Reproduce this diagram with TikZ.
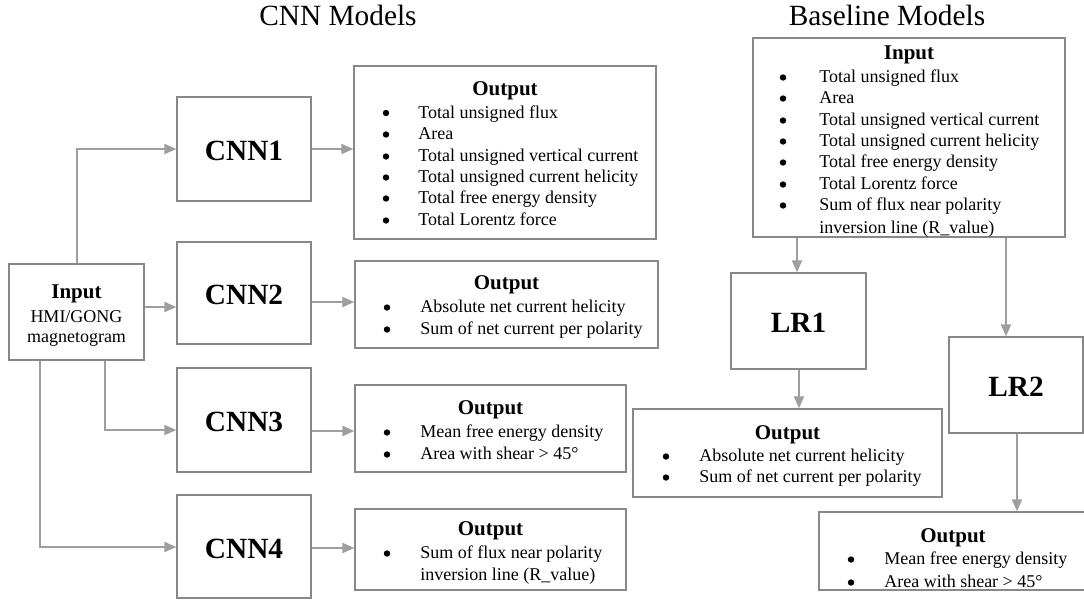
\documentclass[tikz,border=0pt]{standalone}
\usepackage{fontspec}
\setmainfont{Liberation Serif}
\usetikzlibrary{arrows.meta,fit}
\definecolor{boxgray}{HTML}{888888}
\definecolor{arrgray}{HTML}{9E9E9E}
\tikzset{
  box/.style={draw=boxgray, line width=1pt, inner sep=0pt, fit={#1}},
  big/.style={inner sep=0pt, font=\fontsize{22}{26}\selectfont\bfseries},
  head/.style={anchor=base, inner sep=0pt, font=\fontsize{15.75}{18}\selectfont\bfseries},
  item/.style={anchor=base west, inner sep=0pt, font=\fontsize{13.5}{16}\selectfont},
  bul/.style={anchor=base, inner sep=0pt, font=\fontsize{13.5}{16}\selectfont},
  dot/.style={circle, fill=black, draw=none, inner sep=0pt, minimum size=4.8pt},
  title/.style={anchor=base, inner sep=0pt, font=\fontsize{22}{26}\selectfont},
  arr/.style={draw=arrgray, line width=1.5pt, -{Triangle[length=9pt,width=7.5pt]}},
}
\begin{document}
\begin{tikzpicture}[x=0.75pt,y=-0.75pt]
\useasboundingbox (0,0) rectangle (1084,601);
\fill[white] (0,0) rectangle (1084,601);

% titles
\node[title] (t1) at (338,25) {CNN Models};
\node[title] (t2) at (887,25) {Baseline Models};

% input box
\node[box={(9,264)(144,360)}] (in) {};
\node[head] (inh) at (76.5,298) {Input};
\node[bul] (in1) at (76.5,322) {HMI/GONG};
\node[bul] (in2) at (76.5,342) {magnetogram};

% CNN boxes
\node[box={(177,97)(311,201)}] (cnn1) {};
\node[box={(177,242)(311,344)}] (cnn2) {};
\node[box={(177,368)(311,472)}] (cnn3) {};
\node[box={(177,495)(311,598)}] (cnn4) {};
\node[big] (cnn1l) at ([yshift=-1.5pt]cnn1.center) {CNN1};
\node[big] (cnn2l) at ([yshift=-1.5pt]cnn2.center) {CNN2};
\node[big] (cnn3l) at ([yshift=-1.5pt]cnn3.center) {CNN3};
\node[big] (cnn4l) at ([yshift=-1.5pt]cnn4.center) {CNN4};

% output 1
\node[box={(354,66)(656,239)}] (o1) {};
\node[head] (o1h) at (505,95.5) {Output};
\node[dot] (o1b1) at (386,113) {}; \node[item] (o1t1) at (418,118) {Total unsigned flux};
\node[dot] (o1b2) at (386,134.5) {}; \node[item] (o1t2) at (418,139.5) {Area};
\node[dot] (o1b3) at (386,156.5) {}; \node[item] (o1t3) at (418,161.5) {Total unsigned vertical current};
\node[dot] (o1b4) at (386,177.5) {}; \node[item] (o1t4) at (418,182.5) {Total unsigned current helicity};
\node[dot] (o1b5) at (386,198.5) {}; \node[item] (o1t5) at (418,203.5) {Total free energy density};
\node[dot] (o1b6) at (386,220.5) {}; \node[item] (o1t6) at (418,225.5) {Total Lorentz force};

% output 2
\node[box={(355,261)(658,348)}] (o2) {};
\node[head] (o2h) at (506.5,289.5) {Output};
\node[dot] (o2b1) at (387,307.5) {}; \node[item] (o2t1) at (420,312.5) {Absolute net current helicity};
\node[dot] (o2b2) at (387,329.5) {}; \node[item] (o2t2) at (420,334.5) {Sum of net current per polarity};

% output 3
\node[box={(355,385)(626,472)}] (o3) {};
\node[head] (o3h) at (490.5,414.5) {Output};
\node[dot] (o3b1) at (387,432.5) {}; \node[item] (o3t1) at (420,437.5) {Mean free energy density};
\node[dot] (o3b2) at (387,454.5) {}; \node[item] (o3t2) at (420,459.5) {Area with shear > 45°};

% output 4
\node[box={(355,509)(626,590)}] (o4) {};
\node[head] (o4h) at (490.5,535.5) {Output};
\node[dot] (o4b1) at (387,553.5) {}; \node[item] (o4t1) at (420,558.5) {Sum of flux near polarity};
\node[item] (o4t2) at (420,580.5) {inversion line (R\_value)};

% baseline input
\node[box={(753,38)(1065,237)}] (bin) {};
\node[head] (binh) at (909,59.5) {Input};
\node[dot] (bb1) at (783,77.5) {}; \node[item] (bt1) at (819,82.5) {Total unsigned flux};
\node[dot] (bb2) at (783,98.5) {}; \node[item] (bt2) at (819,103.5) {Area};
\node[dot] (bb3) at (783,120.5) {}; \node[item] (bt3) at (819,125.5) {Total unsigned vertical current};
\node[dot] (bb4) at (783,141.5) {}; \node[item] (bt4) at (819,146.5) {Total unsigned current helicity};
\node[dot] (bb5) at (783,162.5) {}; \node[item] (bt5) at (819,167.5) {Total free energy density};
\node[dot] (bb6) at (783,184.5) {}; \node[item] (bt6) at (819,189.5) {Total Lorentz force};
\node[dot] (bb7) at (783,205.5) {}; \node[item] (bt7) at (819,210.5) {Sum of flux near polarity};
\node[item] (bt8) at (819,233) {inversion line (R\_value)};

% LR boxes
\node[box={(731,273)(866,369)}] (lr1) {};
\node[box={(949,337)(1083,433)}] (lr2) {};
\node[big] (lr1l) at ([yshift=-1.5pt]lr1.center) {LR1};
\node[big] (lr2l) at ([yshift=-1.5pt]lr2.center) {LR2};

% LR1 output
\node[box={(633,409)(942,497)}] (lo1) {};
\node[head] (lo1h) at (787.5,439.5) {Output};
\node[dot] (lo1b1) at (666,456.5) {}; \node[item] (lo1t1) at (699,461.5) {Absolute net current helicity};
\node[dot] (lo1b2) at (666,477.5) {}; \node[item] (lo1t2) at (699,482.5) {Sum of net current per polarity};

% LR2 output
\node[box={(819,512)(1087,590)}] (lo2) {};
\node[head] (lo2h) at (953,542.5) {Output};
\node[dot] (lo2b1) at (851,559.5) {}; \node[item] (lo2t1) at (884,564.5) {Mean free energy density};
\node[dot] (lo2b2) at (851,582.5) {}; \node[item] (lo2t2) at (884,587.5) {Area with shear > 45°};

% connectors: input -> CNNs
\draw[arr] (in.north -| 77,0) |- (cnn1.west);
\draw[arr] (in.east |- 0,307) -- (cnn2.west |- 0,307);
\draw[arr] (in.south -| 105,0) |- (cnn3.west |- 0,430);
\draw[arr] (in.south -| 40,0) |- (cnn4.west |- 0,547);

% CNNs -> outputs
\draw[arr] (cnn1.east |- 0,149) -- (o1.west |- 0,149);
\draw[arr] (cnn2.east |- 0,302) -- (o2.west |- 0,302);
\draw[arr] (cnn3.east |- 0,431) -- (o3.west |- 0,431);
\draw[arr] (cnn4.east |- 0,548) -- (o4.west |- 0,548);

% baseline connectors
\draw[arr] (bin.south -| 797,0) -- (lr1.north -| 797,0);
\draw[arr] (bin.south -| 1006,0) -- (lr2.north -| 1006,0);
\draw[arr] (lr1.south -| 799,0) -- (lo1.north -| 799,0);
\draw[arr] (lr2.south -| 1017,0) -- (lo2.north -| 1017,0);
\end{tikzpicture}
\end{document}
